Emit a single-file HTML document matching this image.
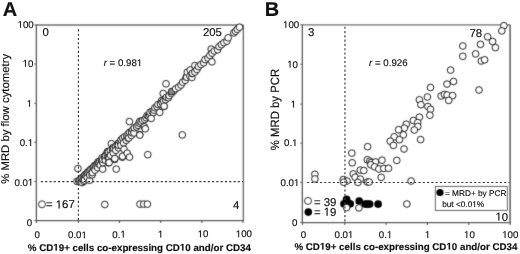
<!DOCTYPE html>
<html><head><meta charset="utf-8"><style>
html,body{margin:0;padding:0;background:#fff;}
svg{display:block;will-change:transform;}
text{text-rendering:geometricPrecision;font-family:"Liberation Sans", sans-serif;fill:#111;stroke:#111;stroke-width:0.15px;}
.h1{fill-opacity:0;stroke-opacity:0;}
.g1{fill:#111;stroke:#111;}
</style></head><body>
<svg width="520" height="254" viewBox="0 0 520 254" xmlns="http://www.w3.org/2000/svg">
<defs><filter id="bl" x="0" y="0" width="1" height="1" color-interpolation-filters="sRGB"><feConvolveMatrix order="3" kernelMatrix="0.0144 0.0912 0.0144 0.0912 0.5776 0.0912 0.0144 0.0912 0.0144" edgeMode="duplicate"/></filter></defs>
<rect width="520" height="254" fill="#fff"/>
<g filter="url(#bl)">
<rect width="520" height="254" fill="#fff"/>
<path d="M36.38 24.98H243.34" fill="none" stroke="#707070" stroke-width="1.4"/>
<path d="M243.34 24.98V220.54" fill="none" stroke="#707070" stroke-width="1.4"/>
<path d="M36.38 24.28V220.54H244.04" fill="none" stroke="#5c5c5c" stroke-width="1.3"/>
<path d="M34.18 24.90H36.38" stroke="#6a6a6a" stroke-width="1"/>
<path d="M34.18 64.10H36.38" stroke="#6a6a6a" stroke-width="1"/>
<path d="M34.18 103.30H36.38" stroke="#6a6a6a" stroke-width="1"/>
<path d="M34.18 142.20H36.38" stroke="#6a6a6a" stroke-width="1"/>
<path d="M34.18 181.50H36.38" stroke="#6a6a6a" stroke-width="1"/>
<path d="M34.18 220.54H36.38" stroke="#6a6a6a" stroke-width="1"/>
<path d="M36.40 220.54V222.94" stroke="#444" stroke-width="1"/>
<path d="M78.40 220.54V222.94" stroke="#444" stroke-width="1"/>
<path d="M119.55 220.54V222.94" stroke="#444" stroke-width="1"/>
<path d="M160.70 220.54V222.94" stroke="#444" stroke-width="1"/>
<path d="M201.85 220.54V222.94" stroke="#444" stroke-width="1"/>
<path d="M243.00 220.54V222.94" stroke="#444" stroke-width="1"/>
<path d="M302.34 24.86H510.10" fill="none" stroke="#707070" stroke-width="1.4"/>
<path d="M510.10 24.86V222.54" fill="none" stroke="#5a5a5a" stroke-width="1.5"/>
<path d="M302.34 24.16V222.54H510.80" fill="none" stroke="#5c5c5c" stroke-width="1.3"/>
<path d="M300.14 24.86H302.34" stroke="#6a6a6a" stroke-width="1"/>
<path d="M300.14 64.20H302.34" stroke="#6a6a6a" stroke-width="1"/>
<path d="M300.14 104.10H302.34" stroke="#6a6a6a" stroke-width="1"/>
<path d="M300.14 143.20H302.34" stroke="#6a6a6a" stroke-width="1"/>
<path d="M300.14 182.40H302.34" stroke="#6a6a6a" stroke-width="1"/>
<path d="M300.14 222.54H302.34" stroke="#6a6a6a" stroke-width="1"/>
<path d="M302.40 222.54V224.94" stroke="#444" stroke-width="1"/>
<path d="M344.80 222.54V224.94" stroke="#444" stroke-width="1"/>
<path d="M386.15 222.54V224.94" stroke="#444" stroke-width="1"/>
<path d="M427.50 222.54V224.94" stroke="#444" stroke-width="1"/>
<path d="M468.85 222.54V224.94" stroke="#444" stroke-width="1"/>
<path d="M510.20 222.54V224.94" stroke="#444" stroke-width="1"/>
<circle cx="503.9" cy="25.7" r="3.35" fill="#fff" stroke="#151515" stroke-width="0.95"/>
<circle cx="501.8" cy="30.9" r="3.35" fill="#fff" stroke="#151515" stroke-width="0.95"/>
<circle cx="487.6" cy="36.8" r="3.35" fill="#fff" stroke="#151515" stroke-width="0.95"/>
<circle cx="492.6" cy="41.5" r="3.35" fill="#fff" stroke="#151515" stroke-width="0.95"/>
<circle cx="495.4" cy="47.6" r="3.35" fill="#fff" stroke="#151515" stroke-width="0.95"/>
<circle cx="462.8" cy="46" r="3.35" fill="#fff" stroke="#151515" stroke-width="0.95"/>
<circle cx="480.5" cy="44.3" r="3.35" fill="#fff" stroke="#151515" stroke-width="0.95"/>
<circle cx="462.8" cy="56.3" r="3.35" fill="#fff" stroke="#151515" stroke-width="0.95"/>
<circle cx="475.6" cy="53.9" r="3.35" fill="#fff" stroke="#151515" stroke-width="0.95"/>
<circle cx="481.3" cy="61" r="3.35" fill="#fff" stroke="#151515" stroke-width="0.95"/>
<circle cx="484.6" cy="59.8" r="3.35" fill="#fff" stroke="#151515" stroke-width="0.95"/>
<circle cx="450.6" cy="70.1" r="3.35" fill="#fff" stroke="#151515" stroke-width="0.95"/>
<circle cx="453.5" cy="81.5" r="3.35" fill="#fff" stroke="#151515" stroke-width="0.95"/>
<circle cx="447" cy="84.1" r="3.35" fill="#fff" stroke="#151515" stroke-width="0.95"/>
<circle cx="430.5" cy="87.5" r="3.35" fill="#fff" stroke="#151515" stroke-width="0.95"/>
<circle cx="479" cy="90" r="3.35" fill="#fff" stroke="#151515" stroke-width="0.95"/>
<circle cx="441.1" cy="96" r="3.35" fill="#fff" stroke="#151515" stroke-width="0.95"/>
<circle cx="444.4" cy="94.4" r="3.35" fill="#fff" stroke="#151515" stroke-width="0.95"/>
<circle cx="447.1" cy="95" r="3.35" fill="#fff" stroke="#151515" stroke-width="0.95"/>
<circle cx="452.6" cy="95.6" r="3.35" fill="#fff" stroke="#151515" stroke-width="0.95"/>
<circle cx="448.7" cy="100.4" r="3.35" fill="#fff" stroke="#151515" stroke-width="0.95"/>
<circle cx="427.4" cy="97" r="3.35" fill="#fff" stroke="#151515" stroke-width="0.95"/>
<circle cx="419.4" cy="99.8" r="3.35" fill="#fff" stroke="#151515" stroke-width="0.95"/>
<circle cx="420.9" cy="104.7" r="3.35" fill="#fff" stroke="#151515" stroke-width="0.95"/>
<circle cx="427.9" cy="106.5" r="3.35" fill="#fff" stroke="#151515" stroke-width="0.95"/>
<circle cx="430.5" cy="109.3" r="3.35" fill="#fff" stroke="#151515" stroke-width="0.95"/>
<circle cx="429.9" cy="115.2" r="3.35" fill="#fff" stroke="#151515" stroke-width="0.95"/>
<circle cx="419.4" cy="117.2" r="3.35" fill="#fff" stroke="#151515" stroke-width="0.95"/>
<circle cx="413.4" cy="120.5" r="3.35" fill="#fff" stroke="#151515" stroke-width="0.95"/>
<circle cx="417.7" cy="122.6" r="3.35" fill="#fff" stroke="#151515" stroke-width="0.95"/>
<circle cx="417.8" cy="126.5" r="3.35" fill="#fff" stroke="#151515" stroke-width="0.95"/>
<circle cx="414.3" cy="130" r="3.35" fill="#fff" stroke="#151515" stroke-width="0.95"/>
<circle cx="406.3" cy="124.2" r="3.35" fill="#fff" stroke="#151515" stroke-width="0.95"/>
<circle cx="404.4" cy="128.1" r="3.35" fill="#fff" stroke="#151515" stroke-width="0.95"/>
<circle cx="398.6" cy="129.7" r="3.35" fill="#fff" stroke="#151515" stroke-width="0.95"/>
<circle cx="403.3" cy="134.9" r="3.35" fill="#fff" stroke="#151515" stroke-width="0.95"/>
<circle cx="394.2" cy="136.8" r="3.35" fill="#fff" stroke="#151515" stroke-width="0.95"/>
<circle cx="399.4" cy="139.7" r="3.35" fill="#fff" stroke="#151515" stroke-width="0.95"/>
<circle cx="390.2" cy="141.2" r="3.35" fill="#fff" stroke="#151515" stroke-width="0.95"/>
<circle cx="393.4" cy="145.4" r="3.35" fill="#fff" stroke="#151515" stroke-width="0.95"/>
<circle cx="420.6" cy="139.6" r="3.35" fill="#fff" stroke="#151515" stroke-width="0.95"/>
<circle cx="404" cy="149" r="3.35" fill="#fff" stroke="#151515" stroke-width="0.95"/>
<circle cx="367.6" cy="146.7" r="3.35" fill="#fff" stroke="#151515" stroke-width="0.95"/>
<circle cx="351.8" cy="153.1" r="3.35" fill="#fff" stroke="#151515" stroke-width="0.95"/>
<circle cx="352.2" cy="162.8" r="3.35" fill="#fff" stroke="#151515" stroke-width="0.95"/>
<circle cx="367.3" cy="159.8" r="3.35" fill="#fff" stroke="#151515" stroke-width="0.95"/>
<circle cx="369.8" cy="161.1" r="3.35" fill="#fff" stroke="#151515" stroke-width="0.95"/>
<circle cx="371.1" cy="162.6" r="3.35" fill="#fff" stroke="#151515" stroke-width="0.95"/>
<circle cx="375.5" cy="162" r="3.35" fill="#fff" stroke="#151515" stroke-width="0.95"/>
<circle cx="382" cy="160.2" r="3.35" fill="#fff" stroke="#151515" stroke-width="0.95"/>
<circle cx="396.8" cy="160.4" r="3.35" fill="#fff" stroke="#151515" stroke-width="0.95"/>
<circle cx="370.8" cy="164.8" r="3.35" fill="#fff" stroke="#151515" stroke-width="0.95"/>
<circle cx="374.6" cy="166.8" r="3.35" fill="#fff" stroke="#151515" stroke-width="0.95"/>
<circle cx="378.8" cy="169" r="3.35" fill="#fff" stroke="#151515" stroke-width="0.95"/>
<circle cx="383.8" cy="168.4" r="3.35" fill="#fff" stroke="#151515" stroke-width="0.95"/>
<circle cx="388.5" cy="168.3" r="3.35" fill="#fff" stroke="#151515" stroke-width="0.95"/>
<circle cx="360.3" cy="170.1" r="3.35" fill="#fff" stroke="#151515" stroke-width="0.95"/>
<circle cx="363.8" cy="170.5" r="3.35" fill="#fff" stroke="#151515" stroke-width="0.95"/>
<circle cx="353.2" cy="173.9" r="3.35" fill="#fff" stroke="#151515" stroke-width="0.95"/>
<circle cx="355.1" cy="177.2" r="3.35" fill="#fff" stroke="#151515" stroke-width="0.95"/>
<circle cx="360.3" cy="179.1" r="3.35" fill="#fff" stroke="#151515" stroke-width="0.95"/>
<circle cx="357.9" cy="182.4" r="3.35" fill="#fff" stroke="#151515" stroke-width="0.95"/>
<circle cx="367.3" cy="182" r="3.35" fill="#fff" stroke="#151515" stroke-width="0.95"/>
<circle cx="369.2" cy="182" r="3.35" fill="#fff" stroke="#151515" stroke-width="0.95"/>
<circle cx="381.2" cy="177.4" r="3.35" fill="#fff" stroke="#151515" stroke-width="0.95"/>
<circle cx="314.9" cy="174.3" r="3.35" fill="#fff" stroke="#151515" stroke-width="0.95"/>
<circle cx="314.9" cy="178.9" r="3.35" fill="#fff" stroke="#151515" stroke-width="0.95"/>
<circle cx="343.3" cy="179.6" r="3.35" fill="#fff" stroke="#151515" stroke-width="0.95"/>
<circle cx="347" cy="181" r="3.35" fill="#fff" stroke="#151515" stroke-width="0.95"/>
<circle cx="343.7" cy="182.2" r="3.35" fill="#fff" stroke="#151515" stroke-width="0.95"/>
<circle cx="411.1" cy="181" r="3.35" fill="#fff" stroke="#151515" stroke-width="0.95"/>
<circle cx="346.6" cy="199.4" r="3.85" fill="#000"/>
<circle cx="344" cy="203.8" r="3.85" fill="#000"/>
<circle cx="350.2" cy="203.8" r="3.85" fill="#000"/>
<circle cx="359.2" cy="201" r="3.85" fill="#000"/>
<circle cx="365.3" cy="204.1" r="3.85" fill="#000"/>
<circle cx="367.3" cy="204.1" r="3.85" fill="#000"/>
<circle cx="369.6" cy="204.1" r="3.85" fill="#000"/>
<circle cx="378.1" cy="204.1" r="3.85" fill="#000"/>
<circle cx="406.9" cy="204" r="3.35" fill="#fff" stroke="#151515" stroke-width="0.95"/>
<circle cx="346.6" cy="207.6" r="3.35" fill="#fff" stroke="#151515" stroke-width="0.95"/>
<circle cx="358.9" cy="207.9" r="3.35" fill="#fff" stroke="#151515" stroke-width="0.95"/>
<circle cx="77.00" cy="181.40" r="3.35" fill="#fff" stroke="#151515" stroke-width="0.95"/>
<circle cx="77.90" cy="168.60" r="3.35" fill="#fff" stroke="#151515" stroke-width="0.95"/>
<circle cx="78.90" cy="180.93" r="3.35" fill="#fff" stroke="#151515" stroke-width="0.95"/>
<circle cx="79.91" cy="179.78" r="3.35" fill="#fff" stroke="#151515" stroke-width="0.95"/>
<circle cx="81.28" cy="179.02" r="3.35" fill="#fff" stroke="#151515" stroke-width="0.95"/>
<circle cx="82.00" cy="182.52" r="3.35" fill="#fff" stroke="#151515" stroke-width="0.95"/>
<circle cx="82.06" cy="177.64" r="3.35" fill="#fff" stroke="#151515" stroke-width="0.95"/>
<circle cx="83.42" cy="176.86" r="3.35" fill="#fff" stroke="#151515" stroke-width="0.95"/>
<circle cx="84.00" cy="181.40" r="3.35" fill="#fff" stroke="#151515" stroke-width="0.95"/>
<circle cx="84.43" cy="175.71" r="3.35" fill="#fff" stroke="#151515" stroke-width="0.95"/>
<circle cx="84.60" cy="180.05" r="3.35" fill="#fff" stroke="#151515" stroke-width="0.95"/>
<circle cx="85.36" cy="174.49" r="3.35" fill="#fff" stroke="#151515" stroke-width="0.95"/>
<circle cx="86.70" cy="173.70" r="3.35" fill="#fff" stroke="#151515" stroke-width="0.95"/>
<circle cx="87.20" cy="177.57" r="3.35" fill="#fff" stroke="#151515" stroke-width="0.95"/>
<circle cx="87.54" cy="172.38" r="3.35" fill="#fff" stroke="#151515" stroke-width="0.95"/>
<circle cx="88.86" cy="171.56" r="3.35" fill="#fff" stroke="#151515" stroke-width="0.95"/>
<circle cx="89.60" cy="180.20" r="3.35" fill="#fff" stroke="#151515" stroke-width="0.95"/>
<circle cx="89.76" cy="170.30" r="3.35" fill="#fff" stroke="#151515" stroke-width="0.95"/>
<circle cx="89.80" cy="175.09" r="3.35" fill="#fff" stroke="#151515" stroke-width="0.95"/>
<circle cx="90.87" cy="169.27" r="3.35" fill="#fff" stroke="#151515" stroke-width="0.95"/>
<circle cx="92.10" cy="174.90" r="3.35" fill="#fff" stroke="#151515" stroke-width="0.95"/>
<circle cx="92.16" cy="168.41" r="3.35" fill="#fff" stroke="#151515" stroke-width="0.95"/>
<circle cx="92.40" cy="172.62" r="3.35" fill="#fff" stroke="#151515" stroke-width="0.95"/>
<circle cx="93.48" cy="167.59" r="3.35" fill="#fff" stroke="#151515" stroke-width="0.95"/>
<circle cx="94.19" cy="166.14" r="3.35" fill="#fff" stroke="#151515" stroke-width="0.95"/>
<circle cx="95.00" cy="170.14" r="3.35" fill="#fff" stroke="#151515" stroke-width="0.95"/>
<circle cx="95.35" cy="165.15" r="3.35" fill="#fff" stroke="#151515" stroke-width="0.95"/>
<circle cx="96.67" cy="164.34" r="3.35" fill="#fff" stroke="#151515" stroke-width="0.95"/>
<circle cx="97.60" cy="167.66" r="3.35" fill="#fff" stroke="#151515" stroke-width="0.95"/>
<circle cx="97.95" cy="163.47" r="3.35" fill="#fff" stroke="#151515" stroke-width="0.95"/>
<circle cx="98.00" cy="161.90" r="3.35" fill="#fff" stroke="#151515" stroke-width="0.95"/>
<circle cx="98.84" cy="162.21" r="3.35" fill="#fff" stroke="#151515" stroke-width="0.95"/>
<circle cx="99.84" cy="161.06" r="3.35" fill="#fff" stroke="#151515" stroke-width="0.95"/>
<circle cx="100.20" cy="165.19" r="3.35" fill="#fff" stroke="#151515" stroke-width="0.95"/>
<circle cx="101.50" cy="160.50" r="3.35" fill="#fff" stroke="#151515" stroke-width="0.95"/>
<circle cx="101.66" cy="160.76" r="3.35" fill="#fff" stroke="#151515" stroke-width="0.95"/>
<circle cx="101.97" cy="157.89" r="3.35" fill="#fff" stroke="#151515" stroke-width="0.95"/>
<circle cx="102.70" cy="169.10" r="3.35" fill="#fff" stroke="#151515" stroke-width="0.95"/>
<circle cx="102.80" cy="162.71" r="3.35" fill="#fff" stroke="#151515" stroke-width="0.95"/>
<circle cx="102.80" cy="159.50" r="3.35" fill="#fff" stroke="#151515" stroke-width="0.95"/>
<circle cx="104.69" cy="157.54" r="3.35" fill="#fff" stroke="#151515" stroke-width="0.95"/>
<circle cx="104.80" cy="204.50" r="3.35" fill="#fff" stroke="#151515" stroke-width="0.95"/>
<circle cx="105.10" cy="157.10" r="3.35" fill="#fff" stroke="#151515" stroke-width="0.95"/>
<circle cx="105.40" cy="160.23" r="3.35" fill="#fff" stroke="#151515" stroke-width="0.95"/>
<circle cx="105.51" cy="155.20" r="3.35" fill="#fff" stroke="#151515" stroke-width="0.95"/>
<circle cx="106.91" cy="153.46" r="3.35" fill="#fff" stroke="#151515" stroke-width="0.95"/>
<circle cx="107.50" cy="151.60" r="3.35" fill="#fff" stroke="#151515" stroke-width="0.95"/>
<circle cx="108.00" cy="157.76" r="3.35" fill="#fff" stroke="#151515" stroke-width="0.95"/>
<circle cx="108.47" cy="151.90" r="3.35" fill="#fff" stroke="#151515" stroke-width="0.95"/>
<circle cx="108.60" cy="162.90" r="3.35" fill="#fff" stroke="#151515" stroke-width="0.95"/>
<circle cx="108.60" cy="157.70" r="3.35" fill="#fff" stroke="#151515" stroke-width="0.95"/>
<circle cx="109.10" cy="157.90" r="3.35" fill="#fff" stroke="#151515" stroke-width="0.95"/>
<circle cx="109.10" cy="162.60" r="3.35" fill="#fff" stroke="#151515" stroke-width="0.95"/>
<circle cx="110.34" cy="150.65" r="3.35" fill="#fff" stroke="#151515" stroke-width="0.95"/>
<circle cx="110.60" cy="155.28" r="3.35" fill="#fff" stroke="#151515" stroke-width="0.95"/>
<circle cx="111.40" cy="143.70" r="3.35" fill="#fff" stroke="#151515" stroke-width="0.95"/>
<circle cx="112.64" cy="149.86" r="3.35" fill="#fff" stroke="#151515" stroke-width="0.95"/>
<circle cx="113.20" cy="152.80" r="3.35" fill="#fff" stroke="#151515" stroke-width="0.95"/>
<circle cx="113.36" cy="147.42" r="3.35" fill="#fff" stroke="#151515" stroke-width="0.95"/>
<circle cx="113.80" cy="148.50" r="3.35" fill="#fff" stroke="#151515" stroke-width="0.95"/>
<circle cx="114.60" cy="159.50" r="3.35" fill="#fff" stroke="#151515" stroke-width="0.95"/>
<circle cx="114.80" cy="158.60" r="3.35" fill="#fff" stroke="#151515" stroke-width="0.95"/>
<circle cx="115.51" cy="146.47" r="3.35" fill="#fff" stroke="#151515" stroke-width="0.95"/>
<circle cx="115.80" cy="150.32" r="3.35" fill="#fff" stroke="#151515" stroke-width="0.95"/>
<circle cx="116.20" cy="169.10" r="3.35" fill="#fff" stroke="#151515" stroke-width="0.95"/>
<circle cx="117.19" cy="145.03" r="3.35" fill="#fff" stroke="#151515" stroke-width="0.95"/>
<circle cx="118.40" cy="147.85" r="3.35" fill="#fff" stroke="#151515" stroke-width="0.95"/>
<circle cx="118.42" cy="143.12" r="3.35" fill="#fff" stroke="#151515" stroke-width="0.95"/>
<circle cx="118.50" cy="145.30" r="3.35" fill="#fff" stroke="#151515" stroke-width="0.95"/>
<circle cx="120.27" cy="141.85" r="3.35" fill="#fff" stroke="#151515" stroke-width="0.95"/>
<circle cx="121.00" cy="145.37" r="3.35" fill="#fff" stroke="#151515" stroke-width="0.95"/>
<circle cx="121.20" cy="139.63" r="3.35" fill="#fff" stroke="#151515" stroke-width="0.95"/>
<circle cx="122.30" cy="157.20" r="3.35" fill="#fff" stroke="#151515" stroke-width="0.95"/>
<circle cx="122.50" cy="156.30" r="3.35" fill="#fff" stroke="#151515" stroke-width="0.95"/>
<circle cx="122.79" cy="138.10" r="3.35" fill="#fff" stroke="#151515" stroke-width="0.95"/>
<circle cx="123.60" cy="142.89" r="3.35" fill="#fff" stroke="#151515" stroke-width="0.95"/>
<circle cx="124.00" cy="149.30" r="3.35" fill="#fff" stroke="#151515" stroke-width="0.95"/>
<circle cx="124.59" cy="136.78" r="3.35" fill="#fff" stroke="#151515" stroke-width="0.95"/>
<circle cx="126.20" cy="140.42" r="3.35" fill="#fff" stroke="#151515" stroke-width="0.95"/>
<circle cx="126.85" cy="135.94" r="3.35" fill="#fff" stroke="#151515" stroke-width="0.95"/>
<circle cx="127.20" cy="153.20" r="3.35" fill="#fff" stroke="#151515" stroke-width="0.95"/>
<circle cx="128.00" cy="138.20" r="3.35" fill="#fff" stroke="#151515" stroke-width="0.95"/>
<circle cx="128.10" cy="134.06" r="3.35" fill="#fff" stroke="#151515" stroke-width="0.95"/>
<circle cx="128.80" cy="137.94" r="3.35" fill="#fff" stroke="#151515" stroke-width="0.95"/>
<circle cx="129.40" cy="121.60" r="3.35" fill="#fff" stroke="#151515" stroke-width="0.95"/>
<circle cx="129.50" cy="157.10" r="3.35" fill="#fff" stroke="#151515" stroke-width="0.95"/>
<circle cx="129.54" cy="132.37" r="3.35" fill="#fff" stroke="#151515" stroke-width="0.95"/>
<circle cx="131.40" cy="135.46" r="3.35" fill="#fff" stroke="#151515" stroke-width="0.95"/>
<circle cx="131.52" cy="131.23" r="3.35" fill="#fff" stroke="#151515" stroke-width="0.95"/>
<circle cx="131.90" cy="132.70" r="3.35" fill="#fff" stroke="#151515" stroke-width="0.95"/>
<circle cx="132.94" cy="129.52" r="3.35" fill="#fff" stroke="#151515" stroke-width="0.95"/>
<circle cx="134.00" cy="132.99" r="3.35" fill="#fff" stroke="#151515" stroke-width="0.95"/>
<circle cx="134.32" cy="127.77" r="3.35" fill="#fff" stroke="#151515" stroke-width="0.95"/>
<circle cx="136.61" cy="126.96" r="3.35" fill="#fff" stroke="#151515" stroke-width="0.95"/>
<circle cx="138.07" cy="125.30" r="3.35" fill="#fff" stroke="#151515" stroke-width="0.95"/>
<circle cx="139.05" cy="123.12" r="3.35" fill="#fff" stroke="#151515" stroke-width="0.95"/>
<circle cx="139.70" cy="134.60" r="3.35" fill="#fff" stroke="#151515" stroke-width="0.95"/>
<circle cx="139.80" cy="135.10" r="3.35" fill="#fff" stroke="#151515" stroke-width="0.95"/>
<circle cx="139.80" cy="121.30" r="3.35" fill="#fff" stroke="#151515" stroke-width="0.95"/>
<circle cx="140.00" cy="204.10" r="3.35" fill="#fff" stroke="#151515" stroke-width="0.95"/>
<circle cx="141.10" cy="122.07" r="3.35" fill="#fff" stroke="#151515" stroke-width="0.95"/>
<circle cx="142.63" cy="120.48" r="3.35" fill="#fff" stroke="#151515" stroke-width="0.95"/>
<circle cx="143.80" cy="204.10" r="3.35" fill="#fff" stroke="#151515" stroke-width="0.95"/>
<circle cx="144.40" cy="126.90" r="3.35" fill="#fff" stroke="#151515" stroke-width="0.95"/>
<circle cx="144.72" cy="119.46" r="3.35" fill="#fff" stroke="#151515" stroke-width="0.95"/>
<circle cx="145.30" cy="128.80" r="3.35" fill="#fff" stroke="#151515" stroke-width="0.95"/>
<circle cx="146.12" cy="117.72" r="3.35" fill="#fff" stroke="#151515" stroke-width="0.95"/>
<circle cx="147.11" cy="115.56" r="3.35" fill="#fff" stroke="#151515" stroke-width="0.95"/>
<circle cx="147.40" cy="204.10" r="3.35" fill="#fff" stroke="#151515" stroke-width="0.95"/>
<circle cx="147.80" cy="154.70" r="3.35" fill="#fff" stroke="#151515" stroke-width="0.95"/>
<circle cx="148.40" cy="116.10" r="3.35" fill="#fff" stroke="#151515" stroke-width="0.95"/>
<circle cx="149.66" cy="115.04" r="3.35" fill="#fff" stroke="#151515" stroke-width="0.95"/>
<circle cx="150.07" cy="112.27" r="3.35" fill="#fff" stroke="#151515" stroke-width="0.95"/>
<circle cx="151.20" cy="118.40" r="3.35" fill="#fff" stroke="#151515" stroke-width="0.95"/>
<circle cx="152.09" cy="111.18" r="3.35" fill="#fff" stroke="#151515" stroke-width="0.95"/>
<circle cx="153.40" cy="112.50" r="3.35" fill="#fff" stroke="#151515" stroke-width="0.95"/>
<circle cx="154.15" cy="110.14" r="3.35" fill="#fff" stroke="#151515" stroke-width="0.95"/>
<circle cx="154.92" cy="107.75" r="3.35" fill="#fff" stroke="#151515" stroke-width="0.95"/>
<circle cx="156.98" cy="106.71" r="3.35" fill="#fff" stroke="#151515" stroke-width="0.95"/>
<circle cx="157.96" cy="104.54" r="3.35" fill="#fff" stroke="#151515" stroke-width="0.95"/>
<circle cx="159.70" cy="112.40" r="3.35" fill="#fff" stroke="#151515" stroke-width="0.95"/>
<circle cx="160.43" cy="103.92" r="3.35" fill="#fff" stroke="#151515" stroke-width="0.95"/>
<circle cx="161.70" cy="100.50" r="3.35" fill="#fff" stroke="#151515" stroke-width="0.95"/>
<circle cx="162.17" cy="102.53" r="3.35" fill="#fff" stroke="#151515" stroke-width="0.95"/>
<circle cx="163.20" cy="93.50" r="3.35" fill="#fff" stroke="#151515" stroke-width="0.95"/>
<circle cx="163.50" cy="100.73" r="3.35" fill="#fff" stroke="#151515" stroke-width="0.95"/>
<circle cx="164.10" cy="106.50" r="3.35" fill="#fff" stroke="#151515" stroke-width="0.95"/>
<circle cx="164.10" cy="106.20" r="3.35" fill="#fff" stroke="#151515" stroke-width="0.95"/>
<circle cx="165.52" cy="99.64" r="3.35" fill="#fff" stroke="#151515" stroke-width="0.95"/>
<circle cx="166.00" cy="83.80" r="3.35" fill="#fff" stroke="#151515" stroke-width="0.95"/>
<circle cx="166.34" cy="97.31" r="3.35" fill="#fff" stroke="#151515" stroke-width="0.95"/>
<circle cx="168.40" cy="97.70" r="3.35" fill="#fff" stroke="#151515" stroke-width="0.95"/>
<circle cx="169.17" cy="95.67" r="3.35" fill="#fff" stroke="#151515" stroke-width="0.95"/>
<circle cx="171.33" cy="93.33" r="3.35" fill="#fff" stroke="#151515" stroke-width="0.95"/>
<circle cx="173.61" cy="91.12" r="3.35" fill="#fff" stroke="#151515" stroke-width="0.95"/>
<circle cx="171.60" cy="91.60" r="3.35" fill="#8a8a8a" stroke="#151515" stroke-width="0.95"/>
<circle cx="175.74" cy="88.75" r="3.35" fill="#fff" stroke="#151515" stroke-width="0.95"/>
<circle cx="178.57" cy="87.11" r="3.35" fill="#fff" stroke="#151515" stroke-width="0.95"/>
<circle cx="181.01" cy="85.07" r="3.35" fill="#fff" stroke="#151515" stroke-width="0.95"/>
<circle cx="182.30" cy="134.90" r="3.35" fill="#fff" stroke="#151515" stroke-width="0.95"/>
<circle cx="182.66" cy="82.21" r="3.35" fill="#fff" stroke="#151515" stroke-width="0.95"/>
<circle cx="185.23" cy="80.29" r="3.35" fill="#fff" stroke="#151515" stroke-width="0.95"/>
<circle cx="186.20" cy="77.00" r="3.35" fill="#fff" stroke="#151515" stroke-width="0.95"/>
<circle cx="186.69" cy="77.23" r="3.35" fill="#fff" stroke="#151515" stroke-width="0.95"/>
<circle cx="187.30" cy="72.20" r="3.35" fill="#fff" stroke="#151515" stroke-width="0.95"/>
<circle cx="189.88" cy="75.96" r="3.35" fill="#fff" stroke="#151515" stroke-width="0.95"/>
<circle cx="190.20" cy="70.00" r="3.35" fill="#fff" stroke="#151515" stroke-width="0.95"/>
<circle cx="191.90" cy="77.50" r="3.35" fill="#fff" stroke="#151515" stroke-width="0.95"/>
<circle cx="192.10" cy="73.69" r="3.35" fill="#fff" stroke="#151515" stroke-width="0.95"/>
<circle cx="192.40" cy="73.20" r="3.35" fill="#fff" stroke="#151515" stroke-width="0.95"/>
<circle cx="194.88" cy="72.00" r="3.35" fill="#fff" stroke="#151515" stroke-width="0.95"/>
<circle cx="194.90" cy="65.60" r="3.35" fill="#fff" stroke="#151515" stroke-width="0.95"/>
<circle cx="196.94" cy="69.56" r="3.35" fill="#fff" stroke="#151515" stroke-width="0.95"/>
<circle cx="198.50" cy="66.60" r="3.35" fill="#fff" stroke="#151515" stroke-width="0.95"/>
<circle cx="200.94" cy="64.55" r="3.35" fill="#fff" stroke="#151515" stroke-width="0.95"/>
<circle cx="203.63" cy="62.77" r="3.35" fill="#fff" stroke="#151515" stroke-width="0.95"/>
<circle cx="205.04" cy="59.64" r="3.35" fill="#fff" stroke="#151515" stroke-width="0.95"/>
<circle cx="207.95" cy="58.09" r="3.35" fill="#fff" stroke="#151515" stroke-width="0.95"/>
<circle cx="209.84" cy="55.47" r="3.35" fill="#fff" stroke="#151515" stroke-width="0.95"/>
<circle cx="211.20" cy="49.10" r="3.35" fill="#fff" stroke="#151515" stroke-width="0.95"/>
<circle cx="211.90" cy="61.80" r="3.35" fill="#fff" stroke="#151515" stroke-width="0.95"/>
<circle cx="212.07" cy="53.21" r="3.35" fill="#fff" stroke="#151515" stroke-width="0.95"/>
<circle cx="214.29" cy="50.93" r="3.35" fill="#fff" stroke="#151515" stroke-width="0.95"/>
<circle cx="217.57" cy="49.76" r="3.35" fill="#fff" stroke="#151515" stroke-width="0.95"/>
<circle cx="218.99" cy="46.65" r="3.35" fill="#fff" stroke="#151515" stroke-width="0.95"/>
<circle cx="221.45" cy="44.63" r="3.35" fill="#fff" stroke="#151515" stroke-width="0.95"/>
<circle cx="223.95" cy="42.65" r="3.35" fill="#fff" stroke="#151515" stroke-width="0.95"/>
<circle cx="226.91" cy="41.15" r="3.35" fill="#fff" stroke="#151515" stroke-width="0.95"/>
<circle cx="228.12" cy="37.82" r="3.35" fill="#fff" stroke="#151515" stroke-width="0.95"/>
<circle cx="233.80" cy="32.90" r="3.35" fill="#fff" stroke="#151515" stroke-width="0.95"/>
<circle cx="235.50" cy="31.30" r="3.35" fill="#fff" stroke="#151515" stroke-width="0.95"/>
<circle cx="237.30" cy="29.30" r="3.35" fill="#fff" stroke="#151515" stroke-width="0.95"/>
<circle cx="239.50" cy="27.20" r="3.35" fill="#fff" stroke="#151515" stroke-width="0.95"/>
<rect x="435.3" y="186.4" width="72" height="24" fill="#fff" stroke="#555" stroke-width="0.9"/>
<circle cx="42" cy="204.3" r="3.5" fill="#fff" stroke="#333" stroke-width="1"/>
<circle cx="308" cy="200.9" r="3.5" fill="#fff" stroke="#333" stroke-width="1"/>
<circle cx="308.3" cy="212.1" r="3.8" fill="#000"/>
<circle cx="440" cy="192.5" r="3.6" fill="#000"/>
</g>
<path d="M78.40 29.36V31.46M78.40 33.65V35.75M78.40 37.94V40.04M78.40 42.22V44.32M78.40 46.51V48.61M78.40 50.80V52.90M78.40 55.08V57.18M78.40 59.37V61.47M78.40 63.66V65.76M78.40 67.95V70.05M78.40 72.23V74.33M78.40 76.52V78.62M78.40 80.81V82.91M78.40 85.09V87.19M78.40 89.38V91.48M78.40 93.67V95.77M78.40 97.95V100.05M78.40 102.24V104.34M78.40 106.53V108.63M78.40 110.82V112.92M78.40 115.10V117.20M78.40 119.39V121.49M78.40 123.68V125.78M78.40 127.96V130.06M78.40 132.25V134.35M78.40 136.54V138.64M78.40 140.82V142.92M78.40 145.11V147.21M78.40 149.40V151.50M78.40 153.69V155.79M78.40 157.97V160.07M78.40 162.26V164.36M78.40 166.55V168.65M78.40 170.83V172.93M78.40 175.12V177.22M78.40 179.41V181.51M78.40 183.69V185.79M78.40 187.98V190.08M78.40 192.27V194.37M78.40 196.56V198.66M78.40 200.84V202.94M78.40 205.13V207.23M78.40 209.42V211.52M78.40 213.70V215.80M78.40 217.99V220.00" stroke="#383838" stroke-width="1.15" fill="none"/>
<path d="M40.88 181.59H42.98M45.16 181.59H47.26M49.44 181.59H51.54M53.72 181.59H55.82M58.00 181.59H60.10M62.28 181.59H64.38M66.56 181.59H68.66M70.84 181.59H72.94M75.12 181.59H77.22M79.40 181.59H81.50M83.68 181.59H85.78M87.96 181.59H90.06M92.24 181.59H94.34M96.52 181.59H98.62M100.80 181.59H102.90M105.08 181.59H107.18M109.36 181.59H111.46M113.64 181.59H115.74M117.92 181.59H120.02M122.20 181.59H124.30M126.48 181.59H128.58M130.76 181.59H132.86M135.04 181.59H137.14M139.32 181.59H141.42M143.60 181.59H145.70M147.88 181.59H149.98M152.16 181.59H154.26M156.44 181.59H158.54M160.72 181.59H162.82M165.00 181.59H167.10M169.28 181.59H171.38M173.56 181.59H175.66M177.84 181.59H179.94M182.12 181.59H184.22M186.40 181.59H188.50M190.68 181.59H192.78M194.96 181.59H197.06M199.24 181.59H201.34M203.52 181.59H205.62M207.80 181.59H209.90M212.08 181.59H214.18M216.36 181.59H218.46M220.64 181.59H222.74M224.92 181.59H227.02M229.20 181.59H231.30M233.48 181.59H235.58M237.76 181.59H239.86M242.04 181.59H243.00" stroke="#383838" stroke-width="1.15" fill="none"/>
<path d="M344.94 26.75V28.85M344.94 31.03V33.13M344.94 35.31V37.41M344.94 39.59V41.69M344.94 43.87V45.97M344.94 48.15V50.25M344.94 52.43V54.53M344.94 56.71V58.81M344.94 60.99V63.09M344.94 65.27V67.37M344.94 69.55V71.65M344.94 73.83V75.93M344.94 78.11V80.21M344.94 82.39V84.49M344.94 86.67V88.77M344.94 90.95V93.05M344.94 95.23V97.33M344.94 99.51V101.61M344.94 103.79V105.89M344.94 108.07V110.17M344.94 112.35V114.45M344.94 116.63V118.73M344.94 120.91V123.01M344.94 125.19V127.29M344.94 129.47V131.57M344.94 133.75V135.85M344.94 138.03V140.13M344.94 142.31V144.41M344.94 146.59V148.69M344.94 150.87V152.97M344.94 155.15V157.25M344.94 159.43V161.53M344.94 163.71V165.81M344.94 167.99V170.09M344.94 172.27V174.37M344.94 176.55V178.65M344.94 180.83V182.93M344.94 185.11V187.21M344.94 189.39V191.49M344.94 193.67V195.77M344.94 197.95V200.05M344.94 202.23V204.33M344.94 206.51V208.61M344.94 210.79V212.89M344.94 215.07V217.17M344.94 219.35V221.45" stroke="#383838" stroke-width="1.15" fill="none"/>
<path d="M307.07 182.45H309.17M311.35 182.45H313.45M315.64 182.45H317.74M319.92 182.45H322.02M324.20 182.45H326.30M328.49 182.45H330.59M332.77 182.45H334.87M337.06 182.45H339.16M341.34 182.45H343.44M345.62 182.45H347.72M349.91 182.45H352.01M354.19 182.45H356.29M358.48 182.45H360.58M362.76 182.45H364.86M367.04 182.45H369.14M371.33 182.45H373.43M375.61 182.45H377.71M379.90 182.45H382.00M384.18 182.45H386.28M388.46 182.45H390.56M392.75 182.45H394.85M397.03 182.45H399.13M401.32 182.45H403.42M405.60 182.45H407.70M409.88 182.45H411.98M414.17 182.45H416.27M418.45 182.45H420.55M422.74 182.45H424.84M427.02 182.45H429.12M431.30 182.45H433.40M435.59 182.45H437.69M439.87 182.45H441.97M444.16 182.45H446.26M448.44 182.45H450.54M452.72 182.45H454.82M457.01 182.45H459.11M461.29 182.45H463.39M465.58 182.45H467.68M469.86 182.45H471.96M474.14 182.45H476.24M478.43 182.45H480.53M482.71 182.45H484.81M487.00 182.45H489.10M491.28 182.45H493.38M495.56 182.45H497.66M499.85 182.45H501.95M504.13 182.45H506.23M508.42 182.45H509.40" stroke="#383838" stroke-width="1.15" fill="none"/>
<text x="17.60" y="27.80" font-size="9.7" font-weight="normal"><tspan class="h1">1</tspan>00</text>
<text x="22.60" y="66.70" font-size="9.7" font-weight="normal"><tspan class="h1">1</tspan>0</text>
<text x="26.70" y="106.80" font-size="9.7" font-weight="normal"><tspan class="h1">1</tspan></text>
<text x="19.70" y="146.00" font-size="9.7" font-weight="normal">0.<tspan class="h1">1</tspan></text>
<text x="14.40" y="185.50" font-size="9.7" font-weight="normal">0.0<tspan class="h1">1</tspan></text>
<text x="26.80" y="225.50" font-size="9.7" font-weight="normal">0</text>
<text x="283.00" y="27.80" font-size="9.7" font-weight="normal"><tspan class="h1">1</tspan>00</text>
<text x="287.20" y="67.50" font-size="9.7" font-weight="normal"><tspan class="h1">1</tspan>0</text>
<text x="290.70" y="107.50" font-size="9.7" font-weight="normal"><tspan class="h1">1</tspan></text>
<text x="284.00" y="146.10" font-size="9.7" font-weight="normal">0.<tspan class="h1">1</tspan></text>
<text x="280.50" y="185.90" font-size="9.7" font-weight="normal">0.0<tspan class="h1">1</tspan></text>
<text x="291.90" y="225.90" font-size="9.7" font-weight="normal">0</text>
<text x="34.40" y="237.60" font-size="9.7" font-weight="normal">0</text>
<text x="68.00" y="238.30" font-size="9.7" font-weight="normal">0.0<tspan class="h1">1</tspan></text>
<text x="112.30" y="237.50" font-size="9.7" font-weight="normal">0.<tspan class="h1">1</tspan></text>
<text x="157.90" y="237.50" font-size="9.7" font-weight="normal"><tspan class="h1">1</tspan></text>
<text x="197.70" y="237.20" font-size="9.7" font-weight="normal"><tspan class="h1">1</tspan>0</text>
<text x="235.80" y="237.20" font-size="9.7" font-weight="normal"><tspan class="h1">1</tspan>00</text>
<text x="300.70" y="237.50" font-size="9.7" font-weight="normal">0</text>
<text x="334.50" y="237.90" font-size="9.7" font-weight="normal">0.0<tspan class="h1">1</tspan></text>
<text x="378.80" y="237.90" font-size="9.7" font-weight="normal">0.<tspan class="h1">1</tspan></text>
<text x="424.90" y="237.90" font-size="9.7" font-weight="normal"><tspan class="h1">1</tspan></text>
<text x="464.00" y="237.90" font-size="9.7" font-weight="normal"><tspan class="h1">1</tspan>0</text>
<text x="502.20" y="237.90" font-size="9.7" font-weight="normal"><tspan class="h1">1</tspan>00</text>
<text x="42.60" y="36.10" font-size="11.4" font-weight="normal">0</text>
<text x="202.90" y="36.20" font-size="11.4" font-weight="normal">205</text>
<text x="232.90" y="208.90" font-size="11.4" font-weight="normal">4</text>
<text x="45.90" y="208.40" font-size="11.4" font-weight="normal">= <tspan class="h1">1</tspan>67</text>
<text x="308.00" y="36.10" font-size="11.4" font-weight="normal">3</text>
<text x="469.50" y="36.60" font-size="11.4" font-weight="normal">78</text>
<text x="495.50" y="220.60" font-size="11.4" font-weight="normal"><tspan class="h1">1</tspan>0</text>
<text x="313.90" y="205.50" font-size="11.4" font-weight="normal">= 39</text>
<text x="313.90" y="215.70" font-size="11.4" font-weight="normal">= <tspan class="h1">1</tspan>9</text>
<text x="103.70" y="66.10" font-size="9.7" font-weight="normal"><tspan font-style="italic">r</tspan> = 0.98<tspan class="h1">1</tspan></text>
<text x="369.10" y="66.40" font-size="9.7" font-weight="normal"><tspan font-style="italic">r</tspan> = 0.926</text>
<text x="27.80" y="250.60" font-size="9.75" font-weight="bold">% CD<tspan class="h1">1</tspan>9+ cells co-expressing CD<tspan class="h1">1</tspan>0 and/or CD34</text>
<text x="294.40" y="249.60" font-size="9.75" font-weight="bold">% CD<tspan class="h1">1</tspan>9+ cells co-expressing CD<tspan class="h1">1</tspan>0 and/or CD34</text>
<text x="2.80" y="16.10" font-size="20" font-weight="bold">A</text>
<text x="264.80" y="16.20" font-size="20" font-weight="bold">B</text>
<text x="445.00" y="195.80" font-size="8.25" font-weight="normal">= MRD+ by PCR</text>
<text x="442.20" y="207.00" font-size="8.25" font-weight="normal">but &lt;0.0<tspan class="h1">1</tspan>%</text>
<text transform="translate(8.50 183.80) rotate(-90)" font-size="11.1" textLength="130.00" lengthAdjust="spacingAndGlyphs">% MRD by flow cytometry</text>
<text transform="translate(278.50 150.30) rotate(-90)" font-size="12" textLength="81.50" lengthAdjust="spacingAndGlyphs">% MRD by PCR</text>
<!--onefix-->
<defs><path id="o1r" d="M515 0L515 1237L197 1010L197 1180L530 1409L696 1409L696 0Z"/><path id="o1b" d="M478 0L478 1170L140 959L140 1180L493 1409L759 1409L759 0Z"/></defs>
<use href="#o1r" class="g1" stroke-width="31.7" transform="translate(17.600 27.800) scale(0.004736 -0.004736)"/>
<use href="#o1r" class="g1" stroke-width="31.7" transform="translate(22.600 66.700) scale(0.004736 -0.004736)"/>
<use href="#o1r" class="g1" stroke-width="31.7" transform="translate(26.700 106.800) scale(0.004736 -0.004736)"/>
<use href="#o1r" class="g1" stroke-width="31.7" transform="translate(27.794 146.000) scale(0.004736 -0.004736)"/>
<use href="#o1r" class="g1" stroke-width="31.7" transform="translate(27.869 185.500) scale(0.004736 -0.004736)"/>
<use href="#o1r" class="g1" stroke-width="31.7" transform="translate(283.000 27.800) scale(0.004736 -0.004736)"/>
<use href="#o1r" class="g1" stroke-width="31.7" transform="translate(287.200 67.500) scale(0.004736 -0.004736)"/>
<use href="#o1r" class="g1" stroke-width="31.7" transform="translate(290.700 107.500) scale(0.004736 -0.004736)"/>
<use href="#o1r" class="g1" stroke-width="31.7" transform="translate(292.094 146.100) scale(0.004736 -0.004736)"/>
<use href="#o1r" class="g1" stroke-width="31.7" transform="translate(293.969 185.900) scale(0.004736 -0.004736)"/>
<use href="#o1r" class="g1" stroke-width="31.7" transform="translate(81.469 238.300) scale(0.004736 -0.004736)"/>
<use href="#o1r" class="g1" stroke-width="31.7" transform="translate(120.394 237.500) scale(0.004736 -0.004736)"/>
<use href="#o1r" class="g1" stroke-width="31.7" transform="translate(157.900 237.500) scale(0.004736 -0.004736)"/>
<use href="#o1r" class="g1" stroke-width="31.7" transform="translate(197.700 237.200) scale(0.004736 -0.004736)"/>
<use href="#o1r" class="g1" stroke-width="31.7" transform="translate(235.800 237.200) scale(0.004736 -0.004736)"/>
<use href="#o1r" class="g1" stroke-width="31.7" transform="translate(347.969 237.900) scale(0.004736 -0.004736)"/>
<use href="#o1r" class="g1" stroke-width="31.7" transform="translate(386.894 237.900) scale(0.004736 -0.004736)"/>
<use href="#o1r" class="g1" stroke-width="31.7" transform="translate(424.900 237.900) scale(0.004736 -0.004736)"/>
<use href="#o1r" class="g1" stroke-width="31.7" transform="translate(464.000 237.900) scale(0.004736 -0.004736)"/>
<use href="#o1r" class="g1" stroke-width="31.7" transform="translate(502.200 237.900) scale(0.004736 -0.004736)"/>
<use href="#o1r" class="g1" stroke-width="26.9" transform="translate(55.728 208.400) scale(0.005566 -0.005566)"/>
<use href="#o1r" class="g1" stroke-width="26.9" transform="translate(495.500 220.600) scale(0.005566 -0.005566)"/>
<use href="#o1r" class="g1" stroke-width="26.9" transform="translate(323.728 215.700) scale(0.005566 -0.005566)"/>
<use href="#o1r" class="g1" stroke-width="31.7" transform="translate(136.841 66.100) scale(0.004736 -0.004736)"/>
<use href="#o1b" class="g1" stroke-width="31.5" transform="translate(53.269 250.600) scale(0.004761 -0.004761)"/>
<use href="#o1b" class="g1" stroke-width="31.5" transform="translate(179.831 250.600) scale(0.004761 -0.004761)"/>
<use href="#o1b" class="g1" stroke-width="31.5" transform="translate(319.869 249.600) scale(0.004761 -0.004761)"/>
<use href="#o1b" class="g1" stroke-width="31.5" transform="translate(446.431 249.600) scale(0.004761 -0.004761)"/>
<use href="#o1r" class="g1" stroke-width="37.2" transform="translate(472.263 207.000) scale(0.004028 -0.004028)"/>
</svg>
</body></html>
